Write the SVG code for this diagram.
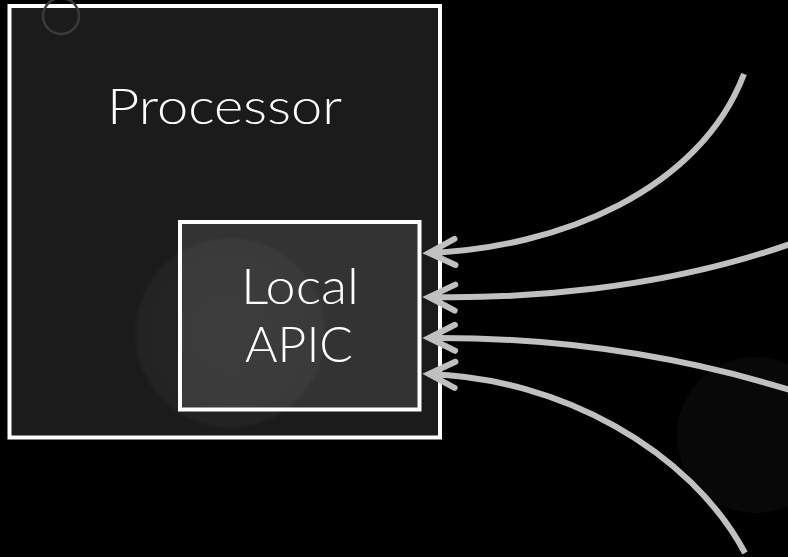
<svg xmlns="http://www.w3.org/2000/svg" width="788" height="557" viewBox="0 0 788 557">
  <defs>
    <style>
      .box { stroke: #ffffff; stroke-width: 4; }
      .label { font-family: "Lato", "Liberation Sans", sans-serif; font-weight: 300; font-size: 50px; fill: #ffffff; text-anchor: middle; }
      .wire { fill: none; stroke: #c0c0c0; stroke-width: 6; marker-start: url(#chevron); }
    </style>
    <marker id="chevron" markerUnits="userSpaceOnUse" refX="0" refY="0" orient="auto" overflow="visible" markerWidth="40" markerHeight="40">
      <path d="M27,-13 L1,0 L27,13" fill="none" stroke="#c0c0c0" stroke-width="6" stroke-linecap="round" stroke-linejoin="miter"/>
    </marker>
    <radialGradient id="glow" cx="50%" cy="50%" r="50%">
      <stop offset="0" stop-color="#ffffff" stop-opacity="0.05"/>
      <stop offset="0.95" stop-color="#ffffff" stop-opacity="0.035"/>
      <stop offset="1" stop-color="#ffffff" stop-opacity="0"/>
    </radialGradient>
  </defs>

  <rect width="788" height="557" fill="#000000"/>
  <circle cx="755" cy="435" r="78" fill="#ffffff" fill-opacity="0.03"/>

  <g id="processor">
    <rect class="box" x="9.5" y="6" width="430.5" height="431.5" fill="#1b1b1b"/>
    <circle cx="61" cy="16" r="18" fill="none" stroke="#3a3a3a" stroke-width="2.5"/>
    <text class="label" x="224.5" y="124" textLength="235" lengthAdjust="spacingAndGlyphs">Processor</text>
  </g>

  <g id="local-apic">
    <rect class="box" x="180" y="222" width="239.5" height="187.5" fill="#333333"/>
    <circle cx="230" cy="333" r="97" fill="url(#glow)"/>
    <text class="label" x="300" y="304" textLength="118" lengthAdjust="spacingAndGlyphs">Local</text>
    <text class="label" x="299" y="362" textLength="108" lengthAdjust="spacingAndGlyphs">APIC</text>
  </g>

  <g id="connectors">
    <path class="wire" d="M428,253 C560,248 700,190 744,74"/>
    <path class="wire" d="M428,297 C520,299 660,290 790,244"/>
    <path class="wire" d="M428,338 C540,337 660,350 790,390"/>
    <path class="wire" d="M428,374 C560,378 690,450 745,553"/>
  </g>
</svg>
